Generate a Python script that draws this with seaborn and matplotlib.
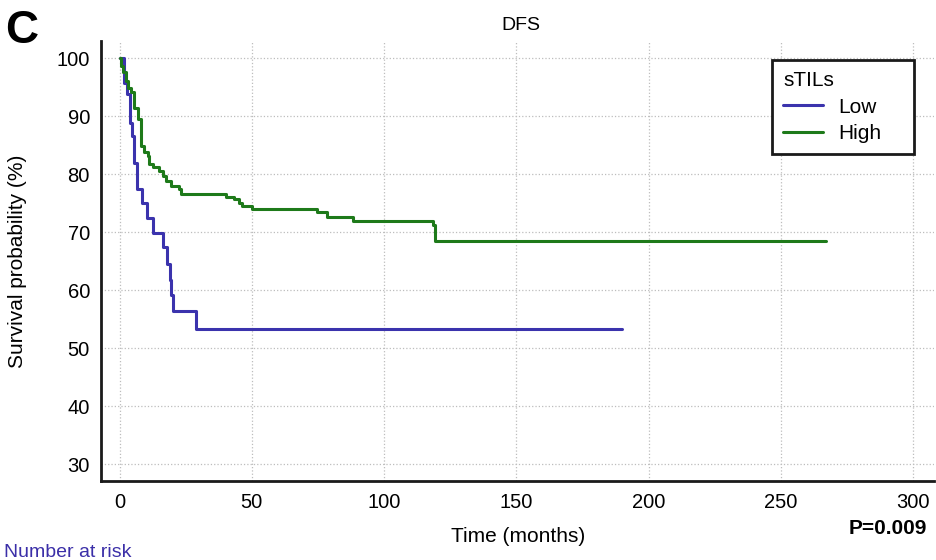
import numpy as np
import pandas as pd
import matplotlib
matplotlib.use('Agg')
import matplotlib.pyplot as plt
import seaborn as sns

# Kaplan-Meier step values (time in months, survival %)
low_time = [0, 1.8, 2.9, 3.8, 4.6, 5.6, 6.5, 8.4, 10.3, 12.8, 16.5, 17.8,
            19.0, 19.6, 20.3, 28.8, 190]
low_surv = [100, 95.8, 93.8, 88.9, 86.6, 82.0, 77.4, 75.1, 72.5, 69.9, 67.4,
            64.5, 61.8, 59.2, 56.4, 53.3, 53.3]

high_time = [0, 0.6, 1.5, 2.3, 3.1, 4.4, 5.6, 6.9, 8.1, 9.4, 10.6, 11.3, 12.5,
             15.0, 16.3, 17.5, 19.4, 22.6, 23.2, 40.1, 43.2, 45.1, 46.4, 50.1,
             74.6, 78.3, 88.3, 118.4, 119.3, 267]
high_surv = [100, 98.7, 97.6, 96.1, 94.9, 94.1, 91.5, 89.5, 84.9, 83.8, 83.2,
             81.7, 81.2, 80.6, 79.7, 78.8, 78.0, 77.4, 76.6, 76.1, 75.7, 75.1,
             74.5, 74.0, 73.4, 72.6, 72.0, 71.2, 68.4, 68.4]

groups = ['Low', 'High']
colors = ['#3b33ad', '#1e7a1a']

df = pd.concat([
    pd.DataFrame({'time': low_time, 'surv': low_surv, 'sTILs': 'Low'}),
    pd.DataFrame({'time': high_time, 'surv': high_surv, 'sTILs': 'High'}),
], ignore_index=True)

sns.set_style('white')
plt.rcParams['font.family'] = ['Liberation Sans', 'DejaVu Sans']
plt.rcParams['text.color'] = 'black'
plt.rcParams['axes.labelcolor'] = 'black'
plt.rcParams['xtick.color'] = 'black'
plt.rcParams['ytick.color'] = 'black'

fig = plt.figure(figsize=(9.36, 5.6), dpi=100)
# axes box: left spine at x=101px, bottom spine at y=481px
ax = fig.add_axes([101 / 936, 1 - 481 / 560, 833 / 936, 440 / 560])

sns.lineplot(data=df, x='time', y='surv', hue='sTILs', hue_order=groups,
             palette=colors, estimator=None, sort=False,
             drawstyle='steps-post', linewidth=2.2, ax=ax)

ax.set_xlim(-7.0, 307.8)
ax.set_ylim(27.07, 102.98)
ax.set_xticks(np.arange(0, 301, 50))
ax.set_yticks(np.arange(30, 101, 10))
ax.set_yticks(np.arange(35, 100, 10), minor=True)

ax.grid(True, which='major', linestyle=':', color='#bdbdbd', linewidth=0.9)
for s in ['top', 'right']:
    ax.spines[s].set_visible(False)
for s in ['left', 'bottom']:
    ax.spines[s].set_linewidth(2.0)
    ax.spines[s].set_color('#1a1a1a')

ax.tick_params(axis='both', which='major', direction='in', length=13,
               width=1.6, color='#1a1a1a', labelsize=14.5)
ax.tick_params(axis='y', which='minor', direction='in', length=6.5,
               width=1.4, color='#1a1a1a')
ax.tick_params(axis='y', which='major', pad=8)
ax.tick_params(axis='x', which='major', pad=9)

ax.set_xlabel('Time (months)', fontsize=15)
ax.set_ylabel('Survival probability (%)', fontsize=15)
ax.xaxis.set_label_coords(0.5006, -0.105)
ax.yaxis.set_label_coords(-0.0888, 0.5)

fig.text(521 / 936, 1 - 30 / 560, 'DFS', fontsize=14, ha='center',
         va='baseline')

leg = ax.legend(title='sTILs', loc='upper left',
                bbox_to_anchor=(0.805, 0.5, 0.171, 0.457), mode='expand',
                borderaxespad=0, fontsize=15, title_fontsize=15,
                fancybox=False, framealpha=1, edgecolor='#1a1a1a',
                handlelength=1.9, handletextpad=0.75, alignment='left',
                borderpad=0.55, labelspacing=0.35)
leg.get_frame().set_linewidth(2.0)

fig.text(0.005, 1 - 43 / 560, 'C', fontsize=33, fontweight='bold',
         va='baseline', ha='left')
fig.text(927 / 936, 1 - 528 / 560, 'P=0.009', fontsize=15, fontweight='bold',
         ha='right', va='center')
fig.text(0.004, 1 - 557 / 560, 'Number at risk', fontsize=14,
         color='#3b2fa8', ha='left', va='baseline')

fig.savefig('out.png', dpi=100)
